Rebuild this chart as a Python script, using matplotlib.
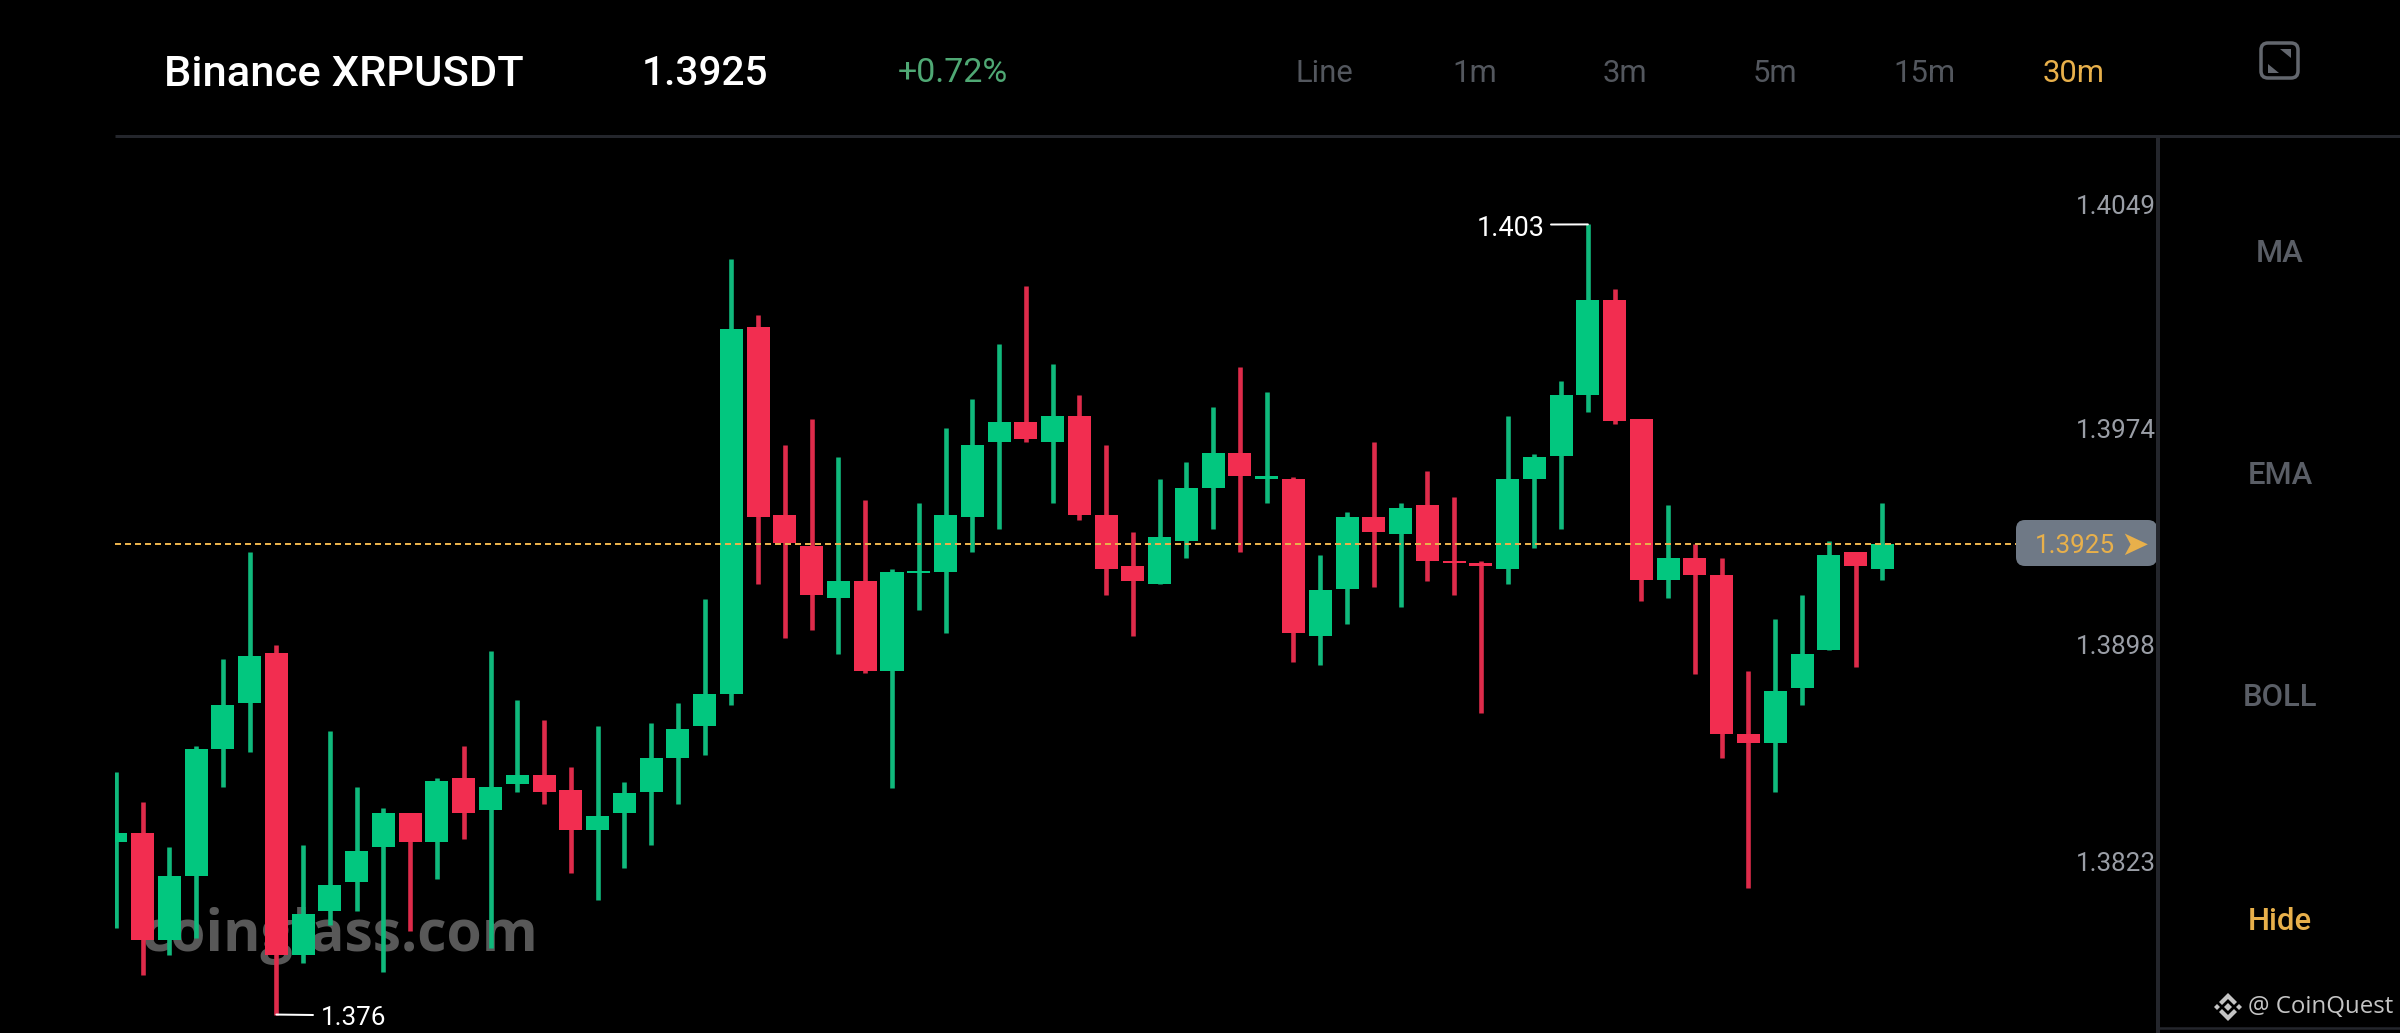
import matplotlib
matplotlib.use("Agg")
import matplotlib.pyplot as plt
from matplotlib.patches import FancyBboxPatch, Polygon, Rectangle

opens = [1.38232,1.38260,1.37897,1.38114,1.38548,1.38706,1.38875,1.37846,1.37995,1.38093,
         1.38212,1.38330,1.38232,1.38448,1.38341,1.38430,1.38459,1.38408,1.38270,1.38330,
         1.38401,1.38519,1.38626,1.38737,1.39991,1.39349,1.39241,1.39063,1.39121,1.38815,
         1.39150,1.39152,1.39340,1.39597,1.39666,1.39597,1.39685,1.39349,1.39172,1.39111,
         1.39260,1.39439,1.39558,1.39470,1.39469,1.38935,1.39093,1.39340,1.39281,1.39380,
         1.39191,1.39183,1.39163,1.39469,1.39549,1.39758,1.40082,1.39676,1.39124,1.39201,
         1.39144,1.38599,1.38568,1.38758,1.38885,1.39220,1.39163]
closes = [1.38260,1.37897,1.38114,1.38548,1.38697,1.38866,1.37846,1.37984,1.38083,1.38201,
          1.38330,1.38232,1.38439,1.38330,1.38419,1.38459,1.38401,1.38270,1.38319,1.38399,
          1.38519,1.38617,1.38735,1.39982,1.39339,1.39251,1.39073,1.39121,1.38815,1.39152,
          1.39155,1.39349,1.39586,1.39666,1.39607,1.39685,1.39349,1.39163,1.39121,1.39271,
          1.39439,1.39558,1.39479,1.39479,1.38944,1.39092,1.39340,1.39290,1.39370,1.39191,
          1.39182,1.39173,1.39469,1.39547,1.39757,1.40082,1.39667,1.39124,1.39201,1.39144,
          1.38599,1.38568,1.38746,1.38874,1.39212,1.39173,1.39250]
highs = [1.38468,1.38368,1.38212,1.38557,1.38855,1.39220,1.38902,1.38221,1.38608,1.38419,
         1.38348,1.38330,1.38448,1.38557,1.38884,1.38717,1.38646,1.38488,1.38626,1.38437,
         1.38637,1.38706,1.39062,1.40222,1.40031,1.39586,1.39676,1.39547,1.39398,1.39163,
         1.39389,1.39646,1.39745,1.39933,1.40131,1.39864,1.39756,1.39586,1.39290,1.39469,
         1.39528,1.39716,1.39854,1.39766,1.39478,1.39211,1.39359,1.39596,1.39389,1.39498,
         1.39408,1.39189,1.39686,1.39557,1.39806,1.40340,1.40121,1.39676,1.39381,1.39250,
         1.39201,1.38815,1.38993,1.39073,1.39260,1.39220,1.39390]
lows = [1.37936,1.37777,1.37846,1.37904,1.38419,1.38539,1.37641,1.37817,1.37946,1.37995,
        1.37788,1.37926,1.38103,1.38241,1.37867,1.38401,1.38361,1.38123,1.38034,1.38143,
        1.38221,1.38361,1.38528,1.38697,1.39113,1.38926,1.38954,1.38874,1.38806,1.38414,
        1.39022,1.38944,1.39222,1.39300,1.39597,1.39389,1.39330,1.39073,1.38935,1.39111,
        1.39201,1.39300,1.39222,1.39389,1.38845,1.38836,1.38975,1.39102,1.39033,1.39121,
        1.39073,1.38670,1.39111,1.39234,1.39301,1.39698,1.39658,1.39054,1.39064,1.38805,
        1.38519,1.38075,1.38402,1.38697,1.38885,1.38827,1.39124]

last_price = 1.3925
high_label = "1.403"
low_label = "1.376"
high_index = 55
low_index = 6
price_labels = ["1.4049", "1.3974", "1.3898", "1.3823", "1.3748"]
time_labels = ["06/30 09:00", "06/30 15:00", "06/30 21:00", "07/01 03:00"]
intervals = ["Line", "1m", "3m", "5m", "15m", "30m"]
indicators = ["MA", "EMA", "BOLL"]

GREEN, RED = "#02C77F", "#F22D50"
GREEN_W, RED_W = "#10B97C", "#DE2B4A"
GOLD = "#E8B04B"
DIM = "#53575E"
W, H = 2400, 1033
DPI = 100

plt.rcParams["font.family"] = ["Roboto", "DejaVu Sans"]
fig = plt.figure(figsize=(W / DPI, H / DPI), dpi=DPI, facecolor="black")


def px(v):
    return v * 72 / DPI


# page layer in pixel coordinates, beneath the candles
bg = fig.add_axes([0, 0, 1, 1], zorder=0)
bg.set_xlim(0, W)
bg.set_ylim(H, 0)
bg.axis("off")
bg.text(340, 951, "coinglass.com", color="#585858", fontsize=px(57), fontweight="bold",
        family="Open Sans", ha="center", va="baseline")

# candle chart
ax = fig.add_axes([115 / W, 0, (2158 - 115) / W, (H - 136) / H], zorder=1)
ax.set_facecolor("none")
ax.set_xlim(-0.03, 76.3)
ax.set_ylim(1.37578, 1.40642)
ax.axis("off")
xs = list(range(len(opens)))
for i, o, c, h, l in zip(xs, opens, closes, highs, lows):
    up = c >= o
    ax.vlines(i, l, h, color=GREEN_W if up else RED_W, lw=px(4.6), capstyle="butt", zorder=2)
    ax.bar(i, abs(c - o), bottom=min(o, c), width=23 / 26.76, color=GREEN if up else RED,
           linewidth=0, zorder=3)
ax.plot([ax.get_xlim()[0], 74.8], [last_price, last_price], color=GOLD, lw=px(2),
        dashes=(3, 2), zorder=5)

# high / low callouts through the data scale
ax.annotate("", xy=(high_index, highs[high_index]), xytext=(1551, 224.5),
            textcoords=bg.transData,
            arrowprops=dict(arrowstyle="-", color="white", lw=px(2), shrinkA=0, shrinkB=0))
ax.annotate("", xy=(low_index, lows[low_index]), xytext=(313, 1015),
            textcoords=bg.transData,
            arrowprops=dict(arrowstyle="-", color="white", lw=px(2), shrinkA=0, shrinkB=0))

# page layer on top
fg = fig.add_axes([0, 0, 1, 1], zorder=2)
fg.set_xlim(0, W)
fg.set_ylim(H, 0)
fg.axis("off")
fg.patch.set_alpha(0)
fg.text(1545, 228, high_label, color="white", fontsize=px(27), ha="right", va="center")
fg.text(321, 1018, low_label, color="white", fontsize=px(26), ha="left", va="center")

# header
fg.text(164, 74, "Binance XRPUSDT", color="white", fontsize=px(43.5), fontweight="medium",
        ha="left", va="center")
fg.text(642, 74, "1.3925", color="white", fontsize=px(40.5), fontweight="medium",
        ha="left", va="center")
fg.text(898, 73, "+0.72%", color="#4FA874", fontsize=px(34), ha="left", va="center")
for name, x in zip(intervals, [1324, 1475, 1625, 1775, 1924, 2074]):
    fg.text(x, 73, name, color=GOLD if name == "30m" else DIM, fontsize=px(31),
            ha="center", va="center")

# frame lines
fg.plot([115, W], [136, 136], color="#24262C", lw=px(3), solid_capstyle="butt")
fg.plot([2158, 2158], [136, H], color="#24262C", lw=px(4), solid_capstyle="butt")
fg.plot([2158, W], [1028, 1028], color="#24262C", lw=px(2.5), solid_capstyle="butt")

# expand icon
fg.add_patch(FancyBboxPatch((2261, 43), 37, 35, boxstyle="round,pad=0,rounding_size=7",
                            fc="none", ec="#63676E", lw=px(3.5)))
fg.add_patch(Polygon([[2291, 49], [2291, 58], [2280, 49]], fc="#63676E", ec="none"))
fg.add_patch(Polygon([[2268, 73], [2268, 64], [2279, 73]], fc="#63676E", ec="none"))

# price axis labels
for lab, y in zip(price_labels, [207, 430.5, 646.6, 864, 1050]):
    fg.text(2156, y, lab, color="#9A9EA6", fontsize=px(26), ha="right", va="center",
            clip_on=True)
for lab, x in zip(time_labels, [187, 625, 1136, 1645]):
    fg.text(x, 1051, lab, color="#9A9EA6", fontsize=px(26), ha="center", va="center",
            clip_on=True)

# last price tag
fg.add_patch(FancyBboxPatch((2016, 520), 141, 46, boxstyle="round,pad=0,rounding_size=9",
                            fc="#6F7986", ec="none"))
fg.text(2035, 546, "1.3925", color=GOLD, fontsize=px(26), ha="left", va="center")
fg.text(2120, 545, "\u27a4", color=GOLD, fontsize=px(34), family="DejaVu Sans",
        ha="left", va="center")

# side buttons
for name, y in zip(indicators, [253, 475, 697]):
    fg.text(2280, y, name, color="#5A5E66", fontsize=px(31), fontweight="medium",
            ha="center", va="center")
fg.text(2280, 921, "Hide", color=GOLD, fontsize=px(31), fontweight="medium",
        ha="center", va="center")

# credit with mark
MARK = "#C4C4C4"
cx, cy = 2228, 1007
fg.add_patch(Polygon([[cx, cy - 4], [cx + 4, cy], [cx, cy + 4], [cx - 4, cy]], fc=MARK, ec="none"))
fg.add_patch(Polygon([[cx - 9, cy - 5], [cx, cy - 14], [cx + 9, cy - 5], [cx + 6, cy - 2],
                      [cx, cy - 8], [cx - 6, cy - 2]], fc=MARK, ec="none"))
fg.add_patch(Polygon([[cx - 9, cy + 5], [cx, cy + 14], [cx + 9, cy + 5], [cx + 6, cy + 2],
                      [cx, cy + 8], [cx - 6, cy + 2]], fc=MARK, ec="none"))
fg.add_patch(Polygon([[cx - 14, cy], [cx - 11, cy - 3], [cx - 8, cy], [cx - 11, cy + 3]], fc=MARK, ec="none"))
fg.add_patch(Polygon([[cx + 14, cy], [cx + 11, cy - 3], [cx + 8, cy], [cx + 11, cy + 3]], fc=MARK, ec="none"))
fg.text(2248, 1007, "@ CoinQuest", color=MARK, fontsize=px(24), family="Open Sans",
        ha="left", va="center")

fig.savefig("out.png", dpi=DPI, facecolor="black")
